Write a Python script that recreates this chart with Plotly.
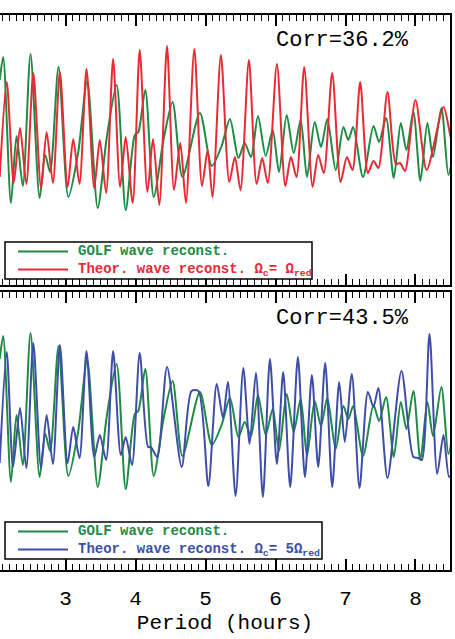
import plotly.graph_objects as go

# ---- data (y in arbitrary units) ----
golf_x = [2.06, 2.11, 2.22, 2.30, 2.39, 2.50, 2.63, 2.71, 2.78, 2.90, 3.04, 3.18, 3.31,
          3.46, 3.59, 3.73, 3.86, 3.99, 4.04, 4.14, 4.26, 4.40, 4.53, 4.67, 4.92, 5.09,
          5.23, 5.35, 5.47, 5.56, 5.65, 5.75, 5.86, 5.96, 6.05, 6.16, 6.26, 6.36, 6.45,
          6.56, 6.65, 6.74, 6.86, 6.97, 7.04, 7.11, 7.25, 7.40, 7.48, 7.58, 7.69, 7.79,
          7.87, 7.97, 8.07, 8.17, 8.25, 8.37, 8.47, 8.54]
golf_y = [0.70, 0.93, -0.53, 0.14, -0.36, 0.96, -0.48, -0.05, -0.22, 0.83, -0.47, -0.03, 0.69,
          -0.58, 0.13, 0.65, -0.60, 0.15, 0.18, 0.60, -0.47, 0.10, 0.48, -0.27, 0.37, -0.16,
          0.04, 0.31, -0.08, 0.07, -0.07, 0.34, -0.06, 0.20, -0.22, 0.35, -0.03, 0.30, -0.27,
          0.28, 0.03, 0.31, -0.20, 0.23, 0.10, 0.23, -0.27, 0.24, 0.08, 0.32, -0.28, 0.27,
          0.00, 0.38, -0.31, 0.27, -0.07, 0.42, -0.25, 0.00]

theo1_x = [2.06, 2.16, 2.26, 2.35, 2.44, 2.54, 2.65, 2.73, 2.82, 2.92, 3.03, 3.11, 3.20,
           3.30, 3.41, 3.49, 3.58, 3.68, 3.78, 3.86, 3.96, 4.06, 4.17, 4.25, 4.34, 4.45,
           4.55, 4.64, 4.72, 4.84, 4.95, 5.03, 5.10, 5.22, 5.34, 5.42, 5.50, 5.62, 5.73,
           5.81, 5.89, 6.02, 6.14, 6.22, 6.30, 6.41, 6.53, 6.61, 6.69, 6.81, 6.93, 7.02,
           7.10, 7.21, 7.32, 7.40, 7.47, 7.60, 7.72, 7.78, 7.85, 8.00, 8.16, 8.40, 8.49, 8.54]
theo1_y = [-0.27, 0.68, -0.33, 0.22, -0.34, 0.77, -0.38, 0.18, -0.33, 0.78, -0.37, 0.11, -0.34,
           0.81, -0.38, 0.10, -0.43, 0.91, -0.37, 0.13, -0.53, 1.00, -0.42, 0.11, -0.55, 1.04,
           -0.40, 0.07, -0.53, 1.01, -0.36, 0.00, -0.47, 0.95, -0.32, -0.07, -0.40, 0.90, -0.34,
           -0.08, -0.33, 0.86, -0.36, -0.07, -0.27, 0.83, -0.37, -0.05, -0.23, 0.77, -0.32, -0.07,
           -0.20, 0.68, -0.23, -0.11, -0.18, 0.58, -0.14, -0.13, -0.21, 0.50, -0.20, 0.43, 0.17, 0.00]

theo5_x = [2.06, 2.16, 2.25, 2.35, 2.44, 2.54, 2.65, 2.73, 2.82, 2.92, 3.03, 3.11, 3.20,
           3.30, 3.41, 3.49, 3.58, 3.68, 3.79, 3.86, 3.95, 4.06, 4.18, 4.22, 4.31, 4.45,
           4.66, 4.80, 4.90, 5.04, 5.16, 5.25, 5.32, 5.43, 5.54, 5.63, 5.72, 5.82, 5.92,
           6.02, 6.11, 6.21, 6.32, 6.42, 6.52, 6.61, 6.71, 6.81, 6.91, 6.99, 7.09, 7.20,
           7.32, 7.40, 7.47, 7.60, 7.80, 7.97, 8.04, 8.09, 8.20, 8.31, 8.40, 8.48, 8.54]
theo5_y = [-0.34, 0.77, -0.38, 0.21, -0.39, 0.86, -0.39, 0.14, -0.35, 0.84, -0.34, 0.02, -0.29,
           0.78, -0.28, -0.06, -0.31, 0.78, -0.26, -0.08, -0.36, 0.76, -0.18, -0.18, -0.28, 0.62,
           -0.38, 0.38, 0.38, -0.57, 0.45, 0.11, 0.47, -0.67, 0.61, -0.15, 0.56, -0.68, 0.70,
           -0.35, 0.57, -0.58, 0.72, -0.48, 0.54, -0.38, 0.66, -0.58, 0.47, -0.13, 0.55, -0.59,
           0.37, 0.22, 0.41, -0.49, 0.58, -0.28, -0.29, -0.31, 0.95, -0.45, -0.06, -0.48, -0.41]

x_ticks = [3, 4, 5, 6, 7, 8]
corr_labels = ["Corr=36.2%", "Corr=43.5%"]
legend_top = ["GOLF wave reconst.", "Theor. wave reconst. Ω<sub>c</sub>= Ω<sub>red</sub>"]
legend_bot = ["GOLF wave reconst.", "Theor. wave reconst. Ω<sub>c</sub>= 5Ω<sub>red</sub>"]

GREEN = "rgb(30,138,68)"
RED = "rgb(232,42,52)"
BLUE = "rgb(62,78,168)"
FONT = "Liberation Mono, Courier New, monospace"
SMOOTH = 0.75

fig = go.Figure()
fig.add_trace(go.Scatter(x=golf_x, y=golf_y, mode="lines", showlegend=False,
                         line=dict(color=GREEN, width=2, shape="spline", smoothing=SMOOTH),
                         name="GOLF wave reconst.", xaxis="x", yaxis="y"))
fig.add_trace(go.Scatter(x=theo1_x, y=theo1_y, mode="lines", showlegend=False,
                         line=dict(color=RED, width=2, shape="spline", smoothing=SMOOTH),
                         name="Theor. wave reconst.", xaxis="x", yaxis="y"))
fig.add_trace(go.Scatter(x=golf_x, y=golf_y, mode="lines", showlegend=False,
                         line=dict(color=GREEN, width=2, shape="spline", smoothing=SMOOTH),
                         name="GOLF wave reconst.", xaxis="x2", yaxis="y2"))
fig.add_trace(go.Scatter(x=theo5_x, y=theo5_y, mode="lines", showlegend=False,
                         line=dict(color=BLUE, width=2, shape="spline", smoothing=SMOOTH),
                         name="Theor. wave reconst.", xaxis="x2", yaxis="y2"))

H = 639
W_PLOT = 450
def py(p):
    return (H - p) / H
def px(p):
    return p / W_PLOT

xcommon = dict(range=[2.064, 8.493], tickvals=x_ticks, ticks="inside", ticklen=11, tickwidth=1.5,
               tickcolor="black", showline=True, linecolor="black", linewidth=1.5, mirror="allticks",
               showgrid=False, zeroline=False,
               minor=dict(dtick=0.1, ticks="inside", ticklen=6, tickwidth=1, tickcolor="black",
                          showgrid=False))
ycommon = dict(side="right", showline=True, linecolor="black", linewidth=1.5, ticks="",
               showticklabels=False, showgrid=False, zeroline=False)

shapes = []
annotations = []
LEG_FS = 14
ROW = LEG_FS * 1.3

def add_legend(box, rows, colors):
    x0, x1, y0, y1 = box
    yc = (y0 + y1) / 2
    shapes.append(dict(type="rect", xref="paper", yref="paper",
                       x0=px(x0), x1=px(x1), y0=py(y1), y1=py(y0),
                       line=dict(color="black", width=1.5), fillcolor="white", layer="above"))
    for k, col in enumerate(colors):
        yy = yc + (k - 0.5) * ROW
        shapes.append(dict(type="line", xref="paper", yref="paper",
                           x0=px(18), x1=px(68), y0=py(yy), y1=py(yy),
                           line=dict(color=col, width=2), layer="above"))
    text = "<br>".join(f'<span style="color:{c}"><b>{t}</b></span>' for t, c in zip(rows, colors))
    annotations.append(dict(text=text, xref="paper", yref="paper", align="left",
                            x=px(76), y=py(yc), xanchor="left", yanchor="middle",
                            showarrow=False, font=dict(family=FONT, size=LEG_FS)))

add_legend((5, 312, 242, 279), legend_top, [GREEN, RED])
add_legend((5, 322, 522, 559), legend_bot, [GREEN, BLUE])

annotations += [
    dict(text=corr_labels[0], x=6.957, y=1.10, xref="x", yref="y", showarrow=False,
         font=dict(family=FONT, size=22, color="black")),
    dict(text=corr_labels[1], x=6.957, y=1.11, xref="x2", yref="y2", showarrow=False,
         font=dict(family=FONT, size=22, color="black")),
]

fig.update_layout(
    width=455, height=H,
    margin=dict(l=0, r=5, t=0, b=0),
    paper_bgcolor="white", plot_bgcolor="white",
    showlegend=False,
    xaxis=dict(**xcommon, anchor="y", showticklabels=False),
    yaxis=dict(**ycommon, domain=[py(285), py(15)], range=[-1.35, 1.35], anchor="x"),
    xaxis2=dict(**xcommon, anchor="y2", showticklabels=True, ticklabelstandoff=8,
                tickfont=dict(family=FONT, size=21, color="black"),
                title=dict(text="Period (hours)", font=dict(family=FONT, size=21, color="black"),
                           standoff=4)),
    yaxis2=dict(**ycommon, domain=[py(570), py(292)], range=[-1.41, 1.37], anchor="x2"),
    shapes=shapes,
    annotations=annotations,
)

fig.write_html("out.html", post_script="document.body.style.margin='0';",
               config={"displayModeBar": False})
